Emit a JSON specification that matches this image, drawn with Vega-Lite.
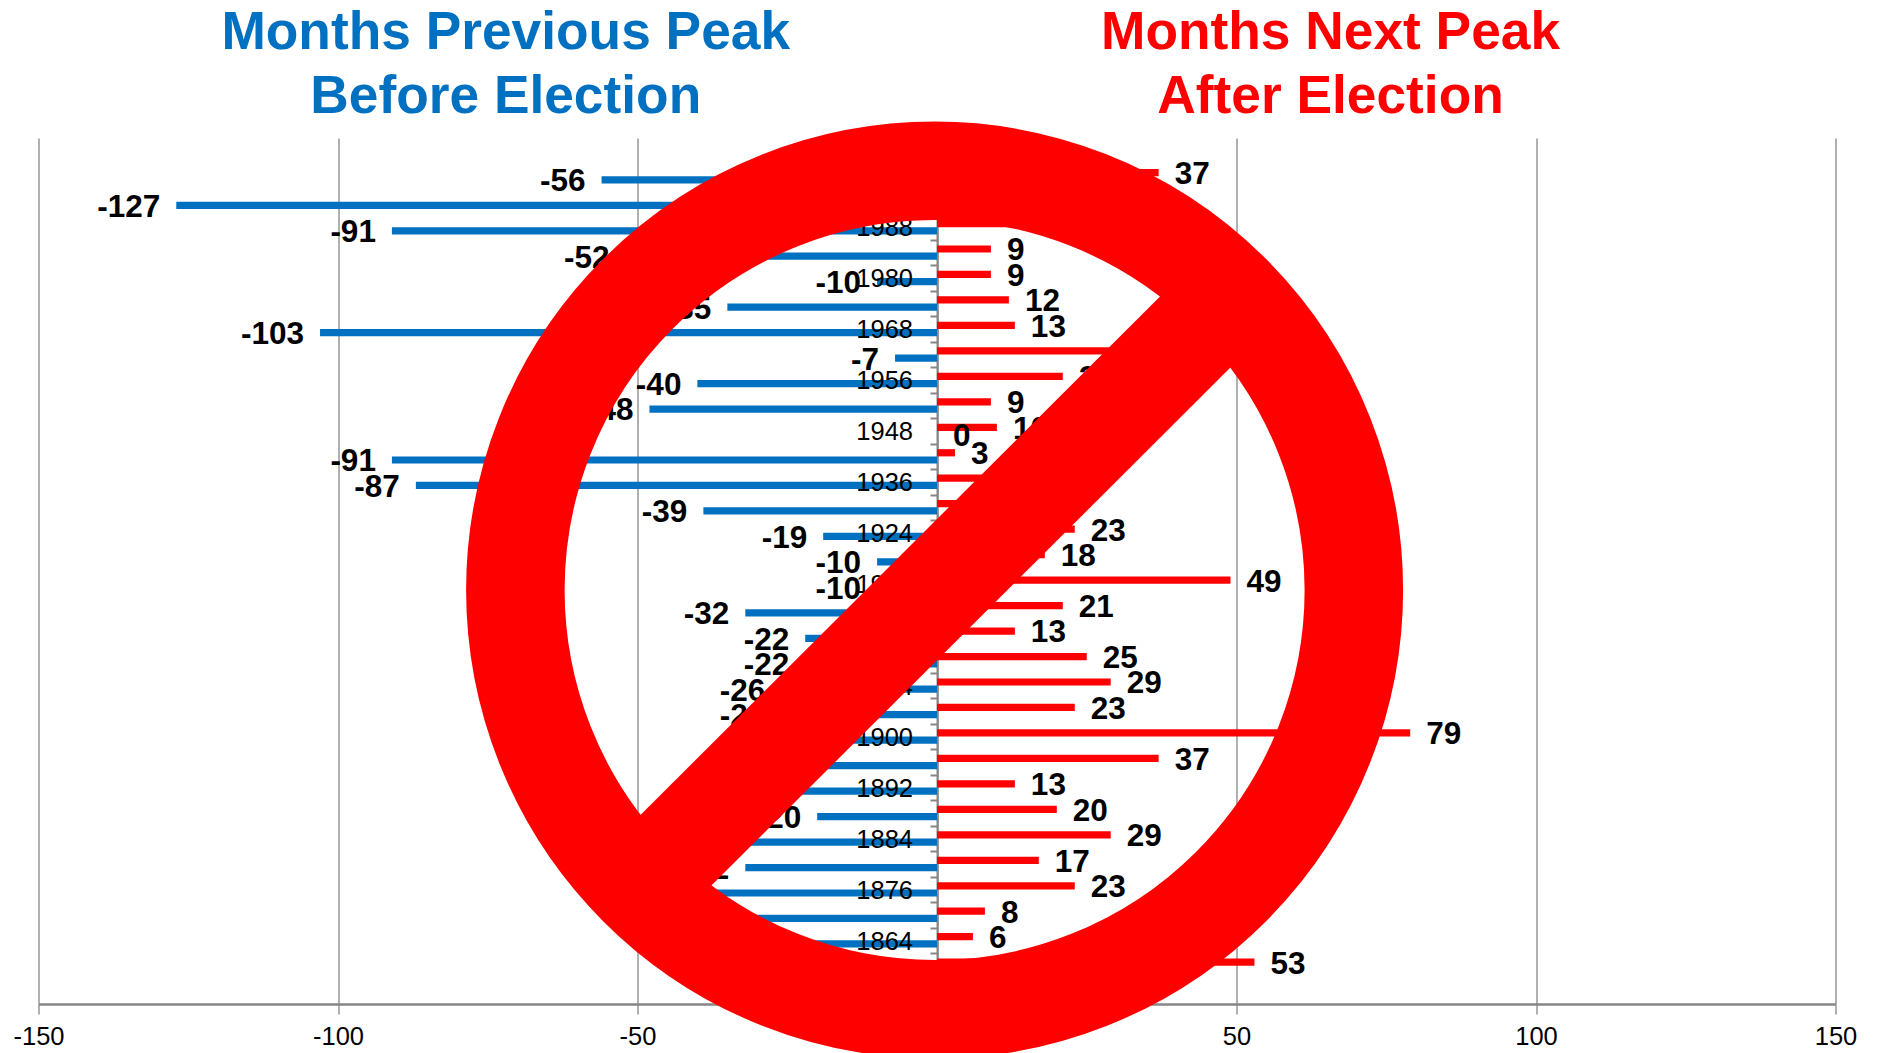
{
  "$schema": "https://vega.github.io/schema/vega-lite/v6.json",
  "width": 1797,
  "height": 866,
  "autosize": {"type": "none"},
  "padding": {"left": 38.5, "top": 138, "right": 43.5, "bottom": 49},
  "background": "white",
  "config": {
    "view": {"stroke": null},
    "locale": {"number": {"decimal": ".", "thousands": ",", "grouping": [3], "currency": ["$", ""], "minus": "-"}}
  },
  "datasets": {
    "peaks": [
      {"year":"1996","series":"previous","months":-56},{"year":"1996","series":"next","months":37},
      {"year":"1992","series":"previous","months":-127},{"year":"1992","series":"next","months":20},
      {"year":"1988","series":"previous","months":-91},{"year":"1988","series":"next","months":16},
      {"year":"1984","series":"previous","months":-52},{"year":"1984","series":"next","months":9},
      {"year":"1980","series":"previous","months":-10},{"year":"1980","series":"next","months":9},
      {"year":"1976","series":"previous","months":-35},{"year":"1976","series":"next","months":12},
      {"year":"1968","series":"previous","months":-103},{"year":"1968","series":"next","months":13},
      {"year":"1960","series":"previous","months":-7},{"year":"1960","series":"next","months":37},
      {"year":"1956","series":"previous","months":-40},{"year":"1956","series":"next","months":21},
      {"year":"1952","series":"previous","months":-48},{"year":"1952","series":"next","months":9},
      {"year":"1948","series":"previous","months":0},{"year":"1948","series":"next","months":10},
      {"year":"1940","series":"previous","months":-91},{"year":"1940","series":"next","months":3},
      {"year":"1936","series":"previous","months":-87},{"year":"1936","series":"next","months":12},
      {"year":"1928","series":"previous","months":-39},{"year":"1928","series":"next","months":11},
      {"year":"1924","series":"previous","months":-19},{"year":"1924","series":"next","months":23},
      {"year":"1920","series":"previous","months":-10},{"year":"1920","series":"next","months":18},
      {"year":"1916","series":"previous","months":-10},{"year":"1916","series":"next","months":49},
      {"year":"1912","series":"previous","months":-32},{"year":"1912","series":"next","months":21},
      {"year":"1908","series":"previous","months":-22},{"year":"1908","series":"next","months":13},
      {"year":"1906","series":"previous","months":-22},{"year":"1906","series":"next","months":25},
      {"year":"1904","series":"previous","months":-26},{"year":"1904","series":"next","months":29},
      {"year":"1902","series":"previous","months":-26},{"year":"1902","series":"next","months":23},
      {"year":"1900","series":"previous","months":-20},{"year":"1900","series":"next","months":79},
      {"year":"1896","series":"previous","months":-24},{"year":"1896","series":"next","months":37},
      {"year":"1892","series":"previous","months":-25},{"year":"1892","series":"next","months":13},
      {"year":"1888","series":"previous","months":-20},{"year":"1888","series":"next","months":20},
      {"year":"1884","series":"previous","months":-32},{"year":"1884","series":"next","months":29},
      {"year":"1880","series":"previous","months":-32},{"year":"1880","series":"next","months":17},
      {"year":"1876","series":"previous","months":-40},{"year":"1876","series":"next","months":23},
      {"year":"1868","series":"previous","months":-40},{"year":"1868","series":"next","months":8},
      {"year":"1864","series":"previous","months":-30},{"year":"1864","series":"next","months":6},
      {"year":"1860","series":"previous","months":-30},{"year":"1860","series":"next","months":53}
    ],
    "yearLabels": [
      {"year":"1988"},{"year":"1980"},{"year":"1968"},{"year":"1956"},{"year":"1948"},
      {"year":"1936"},{"year":"1924"},{"year":"1916"},{"year":"1908"},{"year":"1904"},
      {"year":"1900"},{"year":"1892"},{"year":"1884"},{"year":"1876"},{"year":"1864"}
    ],
    "headings": [
      {"months":-72.0,"year":"2000","label":"Months Previous Peak\nBefore Election","series":"previous"},
      {"months":65.7,"year":"2000","label":"Months Next Peak\nAfter Election","series":"next"}
    ],
    "ring": [{"months":-0.4,"row":17.75}],
    "slash": [{"months":-52.9,"row":30.15},{"months":52.3,"row":5.46}]
  },
  "layer": [
    {
      "data": {"name": "peaks"},
      "layer": [
        {
          "mark": {"type": "bar", "tooltip": false},
          "encoding": {
            "y": {
              "field": "year", "type": "ordinal", "sort": null,
              "scale": {
                "domain": ["2000","1996","1992","1988","1984","1980","1976","1968","1960","1956","1952","1948","1940","1936","1928","1924","1920","1916","1912","1908","1906","1904","1902","1900","1896","1892","1888","1884","1880","1876","1868","1864","1860","1856"],
                "paddingInner": 0, "paddingOuter": 0
              },
              "axis": {
                "title": null, "labels": false, "grid": false,
                "offset": -898.5,
                "domainColor": "#868686", "domainWidth": 2,
                "tickColor": "#868686", "tickWidth": 2, "tickSize": 7, "tickBand": "extent"
              }
            },
            "yOffset": {
              "field": "series", "type": "nominal",
              "scale": {"domain": ["next","previous"], "paddingInner": 0, "paddingOuter": 0.76}
            },
            "x": {
              "field": "months", "type": "quantitative",
              "scale": {"domain": [-150,150], "nice": false},
              "axis": {
                "title": null, "values": [-150,-100,-50,0,50,100,150],
                "grid": true, "gridColor": "#969696", "gridWidth": 1.5,
                "domainColor": "#868686", "domainWidth": 2.5,
                "tickColor": "#969696", "tickWidth": 1.5, "tickSize": 10,
                "labelFont": "Liberation Sans", "labelFontSize": 25.5, "labelColor": "#000000",
                "labelPadding": 10, "labelFlush": false
              }
            },
            "color": {
              "field": "series", "type": "nominal",
              "scale": {"domain": ["previous","next"], "range": ["#0070C0","#FF0000"]},
              "legend": null
            }
          }
        },
        {
          "transform": [{"filter": "datum.months < 0"}],
          "mark": {"type": "text", "align": "right", "baseline": "middle", "dx": -16, "dy": 2.4, "font": "Liberation Sans", "fontWeight": "bold", "fontSize": 31.5, "color": "#000000"},
          "encoding": {
            "y": {"field": "year", "type": "ordinal", "sort": null},
            "yOffset": {"field": "series", "type": "nominal"},
            "x": {"field": "months", "type": "quantitative"},
            "text": {"field": "months", "type": "quantitative"}
          }
        },
        {
          "transform": [{"filter": "datum.months >= 0"}],
          "mark": {"type": "text", "align": "left", "baseline": "middle", "dx": 16, "dy": 2.4, "font": "Liberation Sans", "fontWeight": "bold", "fontSize": 31.5, "color": "#000000"},
          "encoding": {
            "y": {"field": "year", "type": "ordinal", "sort": null},
            "yOffset": {"field": "series", "type": "nominal"},
            "x": {"field": "months", "type": "quantitative"},
            "text": {"field": "months", "type": "quantitative"}
          }
        },
        {
          "data": {"name": "yearLabels"},
          "mark": {"type": "text", "align": "right", "baseline": "middle", "dx": -24, "dy": 1.2, "font": "Liberation Sans", "fontSize": 25.5, "color": "#000000"},
          "encoding": {
            "y": {"field": "year", "type": "ordinal", "sort": null},
            "x": {"datum": 0, "type": "quantitative"},
            "text": {"field": "year", "type": "nominal"}
          }
        },
        {
          "data": {"name": "headings"},
          "mark": {"type": "text", "align": "center", "baseline": "alphabetic", "dy": -101.7, "lineBreak": "\n", "lineHeight": 63.6, "font": "Liberation Sans", "fontWeight": "bold", "fontSize": 53.3},
          "encoding": {
            "y": {"field": "year", "type": "ordinal", "sort": null},
            "x": {"field": "months", "type": "quantitative"},
            "text": {"field": "label", "type": "nominal"},
            "color": {"field": "series", "type": "nominal", "legend": null}
          }
        }
      ]
    },
    {
      "layer": [
        {
          "data": {"name": "ring"},
          "mark": {"type": "point", "shape": "circle", "filled": false, "size": 703082, "strokeWidth": 98.5, "color": "#FF0000", "opacity": 1, "clip": false},
          "encoding": {
            "x": {"field": "months", "type": "quantitative"},
            "y": {"field": "row", "type": "quantitative", "scale": {"domain": [0,34], "reverse": true, "nice": false, "zero": false}, "axis": null}
          }
        },
        {
          "data": {"name": "slash"},
          "mark": {"type": "line", "strokeWidth": 100, "strokeCap": "butt", "color": "#FF0000", "clip": false},
          "encoding": {
            "x": {"field": "months", "type": "quantitative"},
            "y": {"field": "row", "type": "quantitative", "scale": {"domain": [0,34], "reverse": true, "nice": false, "zero": false}, "axis": null}
          }
        }
      ]
    }
  ],
  "resolve": {"scale": {"y": "independent"}}
}
